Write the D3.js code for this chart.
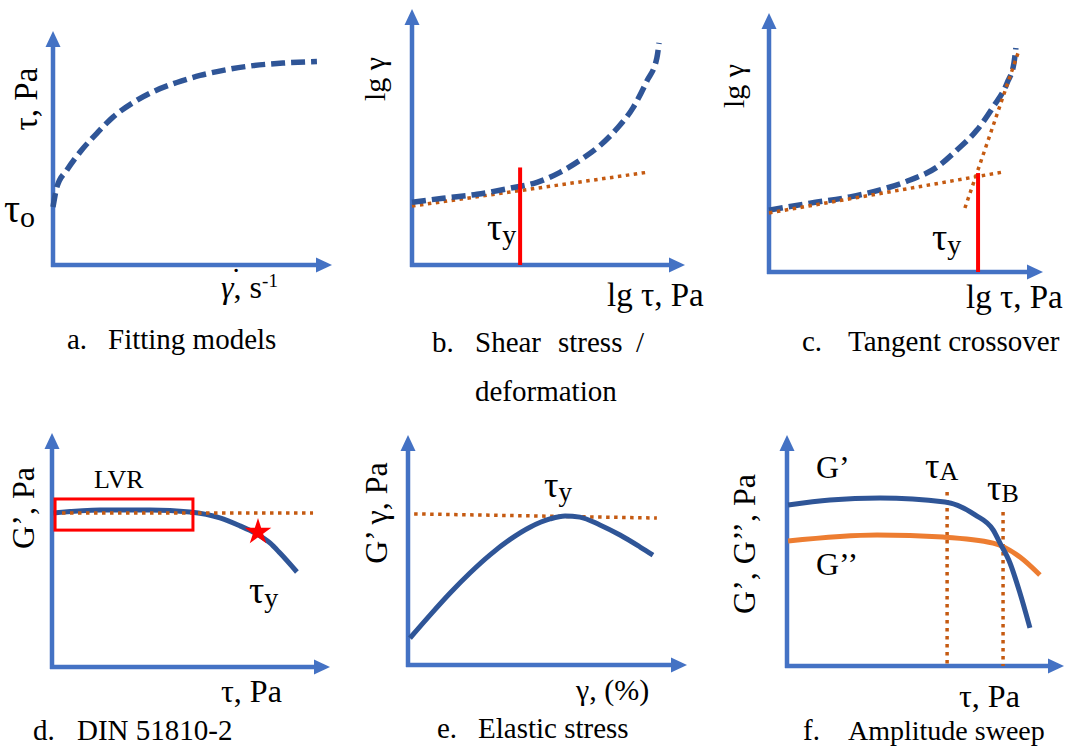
<!DOCTYPE html>
<html><head><meta charset="utf-8">
<script src="https://cdn.jsdelivr.net/npm/d3@7"></script>
</head>
<body style="margin:0"><svg id="chart" width="1070" height="748"></svg>
<script>
// ---------- DATA (schematic units 0..100 along each axis) ----------
// a. Fitting models
const curveA_x = [0, 1.4, 5.0, 9.7, 15.8, 21.5, 28.7, 35.8, 44.4, 52.7, 62.4, 71.7, 82.4, 94.6];
const curveA_y = [24.8, 33.3, 40.6, 48.3, 56.4, 63.2, 69.4, 74.0, 78.0, 81.0, 83.5, 85.2, 86.3, 87.0];
// b. Shear stress / deformation
const curveB_x = [0, 11.4, 23.8, 35.9, 45.8, 54.2, 61.5, 68.9, 75.1, 81.0, 86.1, 89.7, 90.5];
const curveB_y = [24.5, 26.1, 27.6, 30.0, 32.3, 36.2, 40.9, 46.7, 53.3, 61.5, 72.0, 80.9, 86.8];
const tangentB_x = [0, 86.1];
const tangentB_y = [23.0, 36.2];
const yieldB = [39.6, 38.1];          // x, top
// c. Tangent crossover
const curveC_x = [0, 15.0, 29.6, 41.6, 51.5, 61.3, 68.6, 75.9, 81.8, 86.9, 89.4, 90.1];
const curveC_y = [23.9, 26.6, 29.0, 32.0, 35.5, 40.5, 47.1, 54.8, 63.7, 73.0, 80.7, 86.5];
const tangentC1_x = [0, 85.4];
const tangentC1_y = [22.8, 38.6];
const tangentC2_x = [71.5, 90.9];
const tangentC2_y = [24.7, 84.6];
const yieldC = [76.3, 38.2];
// d. DIN 51810-2
const curveD_x = [0.4, 17.3, 35.3, 49.6, 60.4, 67.6, 73.0, 78.4, 82.0, 88.1];
const curveD_y = [65.8, 67.1, 67.1, 66.2, 63.7, 60.3, 57.3, 53.0, 48.7, 40.6];
const plateauD_x = [3.6, 93.9];
const plateauD_y = [65.8, 65.8];
const lvrBox_x = [1.1, 50.7];
const lvrBox_y = [58.5, 71.8];
const starD = [74.1, 57.7];
// e. Elastic stress
const curveE_x = [0.7, 7.9, 15.1, 22.2, 29.4, 36.6, 43.7, 50.9, 56.3, 61.6, 68.8, 76.0, 83.2, 87.8];
const curveE_y = [11.7, 21.7, 31.3, 40.0, 47.9, 54.6, 59.9, 63.5, 64.8, 64.3, 60.9, 56.5, 51.3, 47.8];
const plateauE_x = [2.2, 89.2];
const plateauE_y = [65.7, 63.9];
// f. Amplitude sweep
const gPrime_x = [0.4, 15.5, 33.6, 57.0, 67.9, 74.4, 76.9, 80.5, 84.1, 87.7];
const gPrime_y = [69.7, 71.9, 72.7, 71.0, 65.4, 58.9, 53.2, 44.6, 31.6, 16.5];
const gDouble_x = [0.4, 32.5, 56.3, 74.4, 84.1, 91.3];
const gDouble_y = [54.1, 56.7, 55.8, 53.2, 47.2, 39.4];
const tauLines_x = [57.8, 78.0];
const tauLines_top = [75.3, 66.7];

// ---------- LAYOUT ----------
const fams = ["Liberation Serif"];
const AXIS = "#4472C4", CURVE = "#2F5597", DOT = "#C55A11", ORANGE = "#ED7D31", RED = "#FF0000";
const panels = {
  a: {x0: 53,  y0: 265, xTip: 332,  yTip: 31},
  b: {x0: 412, y0: 265, xTip: 685,  yTip: 9},
  c: {x0: 769, y0: 272, xTip: 1043, yTip: 13},
  d: {x0: 52,  y0: 667, xTip: 330,  yTip: 433},
  e: {x0: 408, y0: 665, xTip: 687,  yTip: 435},
  f: {x0: 787, y0: 666, xTip: 1064, yTip: 435}
};
const svg = d3.select("#chart");

function scales(p) {
  return {x: d3.scaleLinear([0, 100], [p.x0, p.xTip]), y: d3.scaleLinear([0, 100], [p.y0, p.yTip])};
}
function zip(xs, ys) { return xs.map((v, i) => [v, ys[i]]); }

function drawAxes(s) {
  const g = svg.append("g");
  const ox = s.x(0), oy = s.y(0), tx = s.x(100), ty = s.y(100);
  g.append("line").attr("x1", ox).attr("y1", oy + 2).attr("x2", ox).attr("y2", ty + 12)
    .attr("stroke", AXIS).attr("stroke-width", 4.5);
  g.append("line").attr("x1", ox - 2).attr("y1", oy).attr("x2", tx - 12).attr("y2", oy)
    .attr("stroke", AXIS).attr("stroke-width", 4.5);
  g.append("path").attr("d", `M${ox},${ty}L${ox - 7.5},${ty + 16}L${ox + 7.5},${ty + 16}Z`).attr("fill", AXIS);
  g.append("path").attr("d", `M${tx},${oy}L${tx - 16},${oy - 7.5}L${tx - 16},${oy + 7.5}Z`).attr("fill", AXIS);
}
function drawCurve(s, pts, opts) {
  const line = d3.line().x(d => s.x(d[0])).y(d => s.y(d[1]))
    .curve(opts.straight ? d3.curveLinear : d3.curveMonotoneX);
  const p = svg.append("path").attr("d", line(pts)).attr("fill", "none")
    .attr("stroke", opts.color).attr("stroke-width", opts.width || 5);
  if (opts.dash) p.attr("stroke-dasharray", opts.dash);
  return p;
}
function txt(x, y, str, size, opts = {}) {
  const t = svg.append("text").attr("x", x).attr("y", y).attr("font-size", size)
    .attr("font-family", `'${fams[0]}'`).text(str);
  if (opts.anchor) t.attr("text-anchor", opts.anchor);
  if (opts.rotate) t.attr("transform", `rotate(-90,${x},${y})`);
  return t;
}
function tauSub(x, y, sub, size, subSize, dy) {
  const t = svg.append("text").attr("x", x).attr("y", y).attr("font-size", size)
    .attr("font-family", `'${fams[0]}'`);
  t.append("tspan").text("τ");
  t.append("tspan").attr("font-size", subSize).attr("dy", dy).text(sub);
  return t;
}
const DASH = "14 6", DOTS = "3.5 4.5";

// ---------- a ----------
{
  const s = scales(panels.a);
  drawAxes(s);
  drawCurve(s, zip(curveA_x, curveA_y), {color: CURVE, dash: DASH, width: 5.5});
  txt(37, 99, "τ, Pa", 33, {anchor: "middle", rotate: true});
  tauSub(4, 222, "o", 40, 30, 5);
  const g = svg.append("text").attr("x", 221).attr("y", 298).attr("font-size", 32)
    .attr("font-family", `'${fams[0]}'`);
  g.append("tspan").attr("font-style", "italic").text("γ");
  g.append("tspan").text(", s");
  g.append("tspan").attr("font-size", 19).attr("dy", -11).text("-1");
  txt(236, 290, "˙", 32, {anchor: "middle"});
  txt(67, 349, "a.", 29);
  txt(108, 349, "Fitting models", 29);
}
// ---------- b ----------
{
  const s = scales(panels.b);
  drawAxes(s);
  drawCurve(s, zip(tangentB_x, tangentB_y), {color: DOT, dash: DOTS, width: 3.5, straight: true});
  drawCurve(s, zip(curveB_x, curveB_y), {color: CURVE, dash: DASH, width: 5.5});
  svg.append("line").attr("x1", s.x(yieldB[0])).attr("x2", s.x(yieldB[0]))
    .attr("y1", s.y(yieldB[1])).attr("y2", s.y(0)).attr("stroke", RED).attr("stroke-width", 4);
  txt(385, 79, "lg γ", 30, {anchor: "middle", rotate: true});
  tauSub(487, 240, "y", 38, 28, 4);
  txt(607, 306, "lg τ, Pa", 33);
  txt(432, 352, "b.", 29);
  txt(475, 352, "Shear", 29);
  txt(558, 352, "stress", 29);
  txt(636, 352, "/", 29);
  txt(475, 401, "deformation", 29);
}
// ---------- c ----------
{
  const s = scales(panels.c);
  drawAxes(s);
  drawCurve(s, zip(curveC_x, curveC_y), {color: CURVE, dash: DASH, width: 5.5});
  drawCurve(s, zip(tangentC1_x, tangentC1_y), {color: DOT, dash: DOTS, width: 3.5, straight: true});
  drawCurve(s, zip(tangentC2_x, tangentC2_y), {color: DOT, dash: DOTS, width: 3.5, straight: true});
  svg.append("line").attr("x1", s.x(yieldC[0])).attr("x2", s.x(yieldC[0]))
    .attr("y1", s.y(yieldC[1])).attr("y2", s.y(0)).attr("stroke", RED).attr("stroke-width", 4);
  txt(744, 86, "lg γ", 30, {anchor: "middle", rotate: true});
  tauSub(932, 250, "y", 38, 28, 4);
  txt(966, 308, "lg τ, Pa", 33);
  txt(802, 351, "c.", 29);
  txt(848, 351, "Tangent crossover", 29);
}
// ---------- d ----------
{
  const s = scales(panels.d);
  drawAxes(s);
  drawCurve(s, zip(curveD_x, curveD_y), {color: CURVE, width: 5});
  drawCurve(s, zip(plateauD_x, plateauD_y), {color: DOT, dash: DOTS, width: 3.5, straight: true});
  svg.append("rect").attr("x", s.x(lvrBox_x[0])).attr("y", s.y(lvrBox_y[1]))
    .attr("width", s.x(lvrBox_x[1]) - s.x(lvrBox_x[0])).attr("height", s.y(lvrBox_y[0]) - s.y(lvrBox_y[1]))
    .attr("fill", "none").attr("stroke", RED).attr("stroke-width", 3);
  svg.append("path").attr("d", d3.symbol(d3.symbolStar).size(220)())
    .attr("transform", `translate(${s.x(starD[0])},${s.y(starD[1])})`).attr("fill", RED);
  txt(94, 488, "LVR", 26);
  tauSub(249, 603, "y", 38, 28, 4);
  txt(34, 508, "G’, Pa", 32, {anchor: "middle", rotate: true});
  txt(221, 702, "τ, Pa", 32);
  txt(33, 740, "d.", 29);
  txt(77, 740, "DIN 51810-2", 29);
}
// ---------- e ----------
{
  const s = scales(panels.e);
  drawAxes(s);
  drawCurve(s, zip(plateauE_x, plateauE_y), {color: DOT, dash: DOTS, width: 3.5, straight: true});
  drawCurve(s, zip(curveE_x, curveE_y), {color: CURVE, width: 5});
  tauSub(544, 497, "y", 36, 27, 4);
  txt(387, 513, "G’ γ, Pa", 32, {anchor: "middle", rotate: true});
  txt(576, 700, "γ, (%)", 30);
  txt(437, 738, "e.", 29);
  txt(478, 738, "Elastic stress", 29);
}
// ---------- f ----------
{
  const s = scales(panels.f);
  drawAxes(s);
  tauLines_x.forEach((v, i) => {
    svg.append("line").attr("x1", s.x(v)).attr("x2", s.x(v)).attr("y1", s.y(tauLines_top[i])).attr("y2", s.y(0))
      .attr("stroke", DOT).attr("stroke-width", 3.5).attr("stroke-dasharray", DOTS);
  });
  drawCurve(s, zip(gDouble_x, gDouble_y), {color: ORANGE, width: 5});
  drawCurve(s, zip(gPrime_x, gPrime_y), {color: CURVE, width: 5});
  txt(816, 478, "G’", 32);
  txt(816, 575, "G’’", 32);
  tauSub(925, 478, "A", 36, 26, 2);
  tauSub(987, 500, "B", 36, 26, 2);
  txt(755, 544, "G’, G’’, Pa", 32, {anchor: "middle", rotate: true});
  txt(959, 707, "τ, Pa", 32);
  txt(803, 740, "f.", 29);
  txt(848, 740, "Amplitude sweep", 28);
}
</script></body></html>
